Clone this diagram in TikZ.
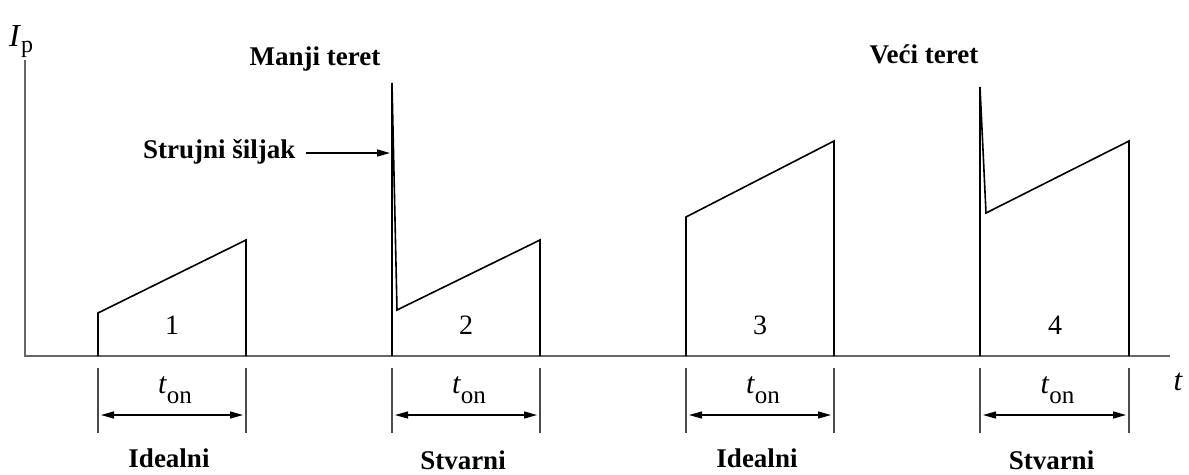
\documentclass[tikz,border=0pt]{standalone}
\usepackage{fontspec}
\setmainfont{Liberation Serif}
\usetikzlibrary{arrows.meta}
\newcommand{\tonlab}{\textit{t}\raisebox{-10pt}{\fontsize{25}{27}\selectfont on}}
\begin{document}
\begin{tikzpicture}[x=1pt,y=-1pt,
  axis/.style={draw=black!60, line width=1.6pt},
  pulse/.style={draw=black, line width=1.6pt, line join=miter},
  dimtick/.style={draw=black!70, line width=1.1pt},
  dimarrow/.style={draw=black, line width=1.3pt, shorten <=3pt, shorten >=3pt,
    {Triangle[length=13pt,width=7pt]}-{Triangle[length=13pt,width=7pt]}},
  lbl/.style={font=\fontsize{27}{30}\selectfont\bfseries, inner sep=0pt, anchor=base},
  num/.style={font=\fontsize{28}{30}\selectfont, inner sep=0pt},
  ton/.style={font=\fontsize{30}{32}\selectfont, inner sep=0pt, anchor=base}]
\useasboundingbox (0,0) rectangle (1189,474);
\clip (0,0) rectangle (1189,474);

% axes
\coordinate (ytop) at (25,60);
\coordinate (org) at (25,356);
\coordinate (xend) at (1170,356);
\draw[axis] (ytop) -- (org) -- (xend);
\node[font=\fontsize{32}{34}\selectfont, inner sep=0pt, anchor=base west] (Ip) at (9,46) {\textit{I}\raisebox{-6pt}{\fontsize{24}{26}\selectfont p}};
\node[font=\fontsize{31}{33}\selectfont\itshape, inner sep=0pt, anchor=base] (tlab) at (1178,390) {t};

% pulses
\draw[pulse] (98,356) -- (98,313) -- (246,240) -- (246,356);
\draw[pulse] (392,356) -- (392,83) -- (397,310) -- (540,240) -- (540,356);
\draw[pulse] (686,356) -- (686,217) -- (834,141) -- (834,356);
\draw[pulse] (980,356) -- (980,87) -- (986,213) -- (1129,141) -- (1129,356);

% numbers
\node[num] (n1) at (172,325) {1};
\node[num] (n2) at (466,325) {2};
\node[num] (n3) at (760,325) {3};
\node[num] (n4) at (1055,325) {4};

% top labels
\node[lbl] (manji) at (315,65) {Manji teret};
\node[lbl] (veci) at (924,63) {Veći teret};
\node[lbl, anchor=base west] (spike) at (143,158) {Strujni šiljak};
\coordinate (spiketip) at (390,153);
\draw[draw=black, line width=1.3pt, -{Triangle[length=13pt,width=7pt]}] (spike.east |- spiketip) ++(10,0) -- (spiketip);

% t_on dimensions
\foreach \xs/\xe/\name/\lab/\yb in {98/246/a/Idealni/467, 392/540/b/Stvarni/469, 686/834/c/Idealni/467, 980/1129/d/Stvarni/469}{
  \coordinate (\name s) at (\xs,415);
  \coordinate (\name e) at (\xe,415);
  \draw[dimtick] (\xs,368) -- (\xs,433);
  \draw[dimtick] (\xe,368) -- (\xe,433);
  \draw[dimarrow] (\name s) -- (\name e);
  \node[ton] (ton\name) at ({(\xs+\xe)/2+3},393) {\tonlab};
  \node[lbl] (lab\name) at ({(\xs+\xe)/2-3},\yb) {\lab};
}
\end{tikzpicture}
\end{document}
